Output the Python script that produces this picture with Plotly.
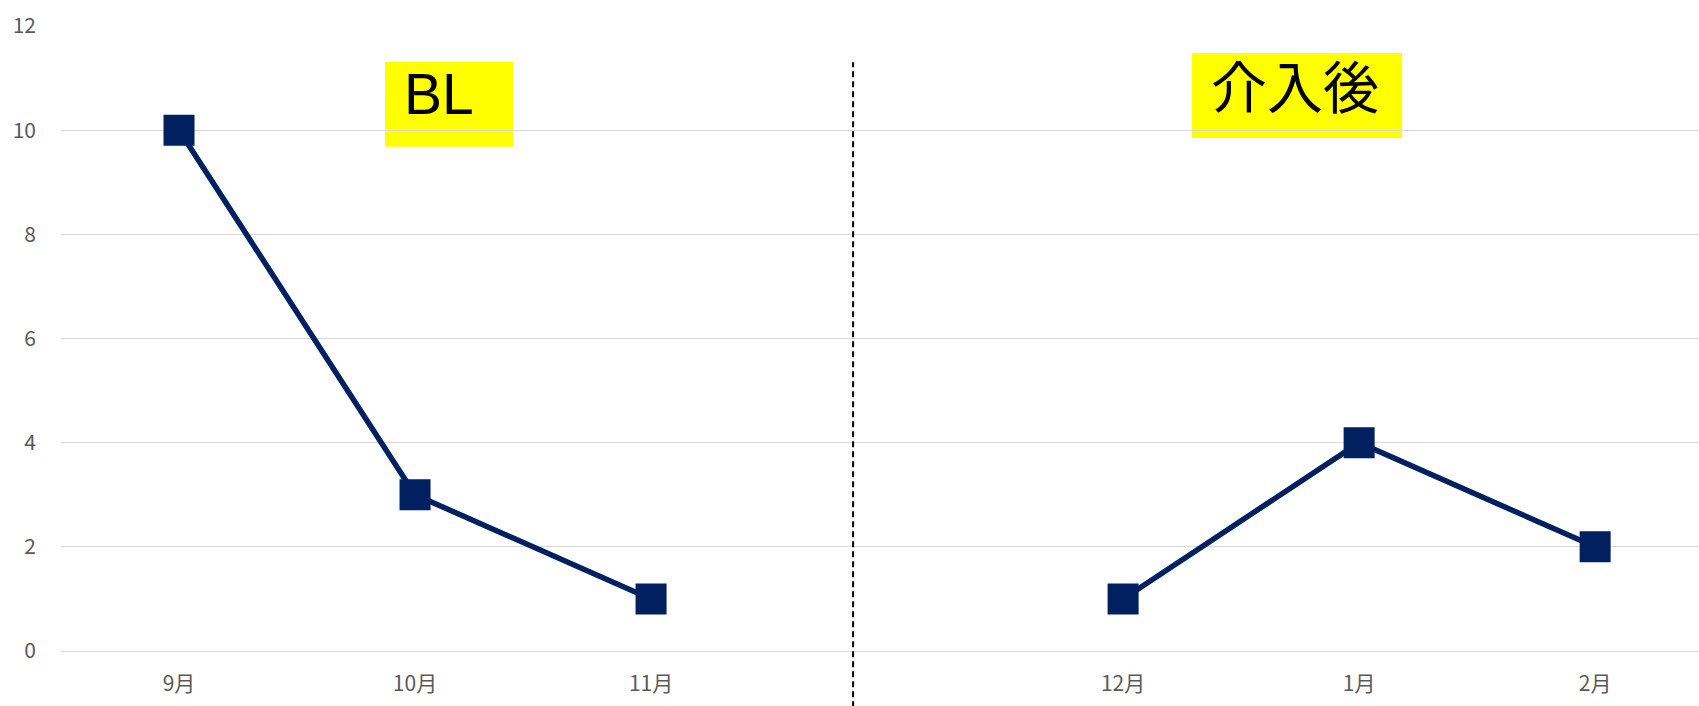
import plotly.graph_objects as go

# Data
categories = ["9月", "10月", "11月", "", "12月", "1月", "2月"]
bl_months = ["9月", "10月", "11月"]
bl_values = [10, 3, 1]
post_months = ["12月", "1月", "2月"]
post_values = [1, 4, 2]
y_ticks = [0, 2, 4, 6, 8, 10, 12]
phase_labels = ["BL", "介入後"]

pos = {c: i for i, c in enumerate(categories)}
tick_cats = [c for c in categories if c]

NAVY = "#002060"
W, H = 1699, 706
xr = [-0.5, 6.44]

fig = go.Figure()
for months, vals in [(bl_months, bl_values), (post_months, post_values)]:
    fig.add_trace(go.Scatter(
        x=[pos[m] for m in months], y=vals, mode="lines+markers",
        line=dict(color=NAVY, width=5.5),
        marker=dict(symbol="square", size=29, color=NAVY, line=dict(color=NAVY, width=2)),
        showlegend=False, hoverinfo="skip"))

# phase separator (dashed)
xsep = 2.856
px = (xsep - xr[0]) / (xr[1] - xr[0])
fig.add_shape(type="line", xref="paper", yref="paper", x0=px, x1=px, y0=-0.09, y1=0.942,
              line=dict(color="black", width=2, dash="6px,4px"), layer="above")

# phase label boxes
fig.add_shape(type="rect", xref="x", yref="y", x0=0.873, x1=1.415, y0=9.68, y1=11.31,
              fillcolor="#FFFF00", line=dict(width=0), layer="below")
fig.add_shape(type="rect", xref="x", yref="y", x0=4.292, x1=5.182, y0=9.85, y1=11.48,
              fillcolor="#FFFF00", line=dict(width=0), layer="below")

# phase label texts
fig.add_annotation(x=1.10, y=10.69, xref="x", yref="y", text=phase_labels[0], showarrow=False,
                   font=dict(family="Liberation Sans, Arial", size=57, color="black"),
                   xanchor="center", yanchor="middle")
fig.add_annotation(x=4.728, y=10.90, xref="x", yref="y", text=phase_labels[1], showarrow=False,
                   font=dict(family="Noto Sans CJK JP", size=56, color="black"),
                   xanchor="center", yanchor="middle")

fig.update_layout(
    width=W, height=H, margin=dict(l=61, r=0, t=26, b=55),
    paper_bgcolor="white", plot_bgcolor="white",
    font=dict(family="Noto Sans CJK JP", size=20, color="#595959"),
)
fig.update_xaxes(range=xr, tickmode="array", tickvals=[pos[c] for c in tick_cats], ticktext=tick_cats,
                 showgrid=False, zeroline=False, showline=False, ticks="", ticklabelstandoff=18,
                 tickfont=dict(size=21, color="#595959"))
fig.update_yaxes(range=[0, 12], tickmode="array", tickvals=y_ticks, showgrid=True, gridcolor="#D9D9D9",
                 gridwidth=1.3, zeroline=True, zerolinecolor="#D9D9D9", zerolinewidth=1.3, showline=False,
                 ticks="", ticklabelstandoff=24, tickfont=dict(size=21, color="#595959"), layer="below traces")

fig.write_html("out.html")
